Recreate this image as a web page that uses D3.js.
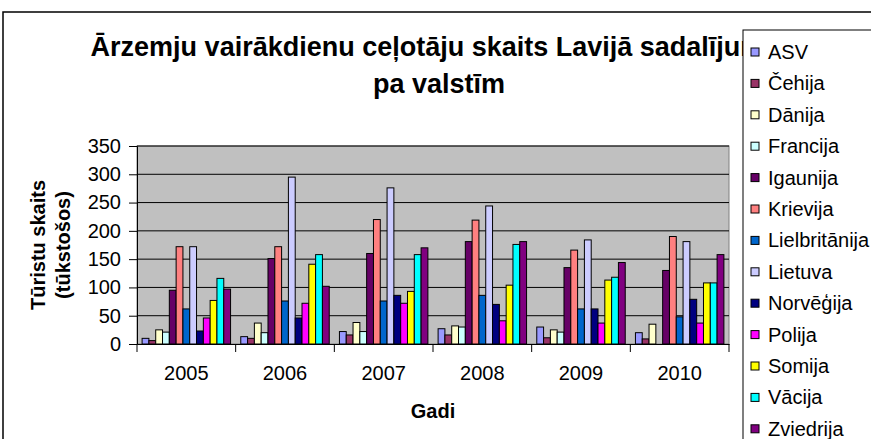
<!DOCTYPE html>
<html>
<head>
<meta charset="utf-8">
<script src="https://cdn.jsdelivr.net/npm/d3@7"></script>
<style>
  body { margin: 0; background: #fff; }
  text { font-family: "Liberation Sans", Arial, sans-serif; }
</style>
</head>
<body>
<svg width="871" height="439"></svg>
<script>
// Data (thousands of tourists)
var years = ["2005", "2006", "2007", "2008", "2009", "2010"];
var countries = ["ASV", "Čehija", "Dānija", "Francija", "Igaunija", "Krievija", "Lielbritānija",
                 "Lietuva", "Norvēģija", "Polija", "Somija", "Vācija", "Zviedrija"];
var colors = ["#9999FF", "#993366", "#FFFFCC", "#CCFFFF", "#660066", "#FF8080", "#0066CC",
              "#CCCCFF", "#000080", "#FF00FF", "#FFFF00", "#00FFFF", "#800080"];
var asv          = [10, 13, 22, 27, 30, 20];
var cehija       = [6, 10, 16, 16, 11, 9];
var danija       = [25, 37, 38, 32, 25, 35];
var francija     = [21, 20, 22, 30, 21, 0];
var igaunija     = [95, 151, 160, 181, 135, 130];
var krievija     = [172, 172, 220, 219, 166, 190];
var lielbritanija = [62, 76, 76, 86, 62, 48];
var lietuva      = [172, 295, 276, 244, 184, 181];
var norvegija    = [23, 46, 86, 70, 62, 79];
var polija       = [46, 72, 72, 41, 37, 37];
var somija       = [77, 141, 93, 104, 113, 108];
var vacija       = [116, 158, 158, 176, 118, 108];
var zviedrija    = [97, 102, 170, 181, 144, 158];
var series = [asv, cehija, danija, francija, igaunija, krievija, lielbritanija,
              lietuva, norvegija, polija, somija, vacija, zviedrija];
var yTicks = [0, 50, 100, 150, 200, 250, 300, 350];

var svg = d3.select("svg");

// chart area border
svg.append("rect")
  .attr("x", 3).attr("y", 12).attr("width", 900).attr("height", 460)
  .attr("fill", "#fff").attr("stroke", "#000").attr("stroke-width", 1.5);

// plot area
var pLeft = 137, pRight = 729, pTop = 146, pBottom = 344;

var x0 = d3.scaleBand().domain(years).range([pLeft, pRight]).padding(0);
var x1 = d3.scaleBand().domain(d3.range(countries.length))
    .range([0, x0.bandwidth()]).paddingInner(0).paddingOuter(0.75);
var y = d3.scaleLinear().domain([0, 350]).range([pBottom, pTop]);

svg.append("rect")
  .attr("x", pLeft).attr("y", pTop).attr("width", pRight - pLeft).attr("height", pBottom - pTop)
  .attr("fill", "#C0C0C0").attr("stroke", "#808080");

// gridlines
svg.append("g").selectAll("line")
  .data(yTicks.slice(1))
  .enter().append("line")
    .attr("x1", pLeft).attr("x2", pRight)
    .attr("y1", function(d){ return y(d); }).attr("y2", function(d){ return y(d); })
    .attr("stroke", "#000").attr("stroke-width", 1);

// bars
var rows = [];
years.forEach(function(yr, i){
  series.forEach(function(s, j){ rows.push({year: yr, k: j, v: s[i]}); });
});
svg.append("g").selectAll("rect")
  .data(rows)
  .enter().append("rect")
    .attr("x", function(d){ return x0(d.year) + x1(d.k); })
    .attr("y", function(d){ return y(d.v); })
    .attr("width", x1.bandwidth())
    .attr("height", function(d){ return pBottom - y(d.v); })
    .attr("fill", function(d){ return colors[d.k]; })
    .attr("stroke", "#000").attr("stroke-width", 1);

// axes
var yAxis = svg.append("g")
  .attr("transform", "translate(" + pLeft + ",0)")
  .call(d3.axisLeft(y).tickValues(yTicks).tickSize(8).tickPadding(8));
yAxis.selectAll("text").style("font-size", "20px").attr("fill", "#000");

var xAxis = svg.append("g")
  .attr("transform", "translate(0," + pBottom + ")")
  .call(d3.axisBottom(x0).tickSize(0).tickPadding(22));
xAxis.selectAll("text").style("font-size", "20px").attr("fill", "#000");
// category boundary ticks
svg.append("g").selectAll("line")
  .data(years.concat(["end"]))
  .enter().append("line")
    .attr("x1", function(d, i){ return pLeft + i * x0.step(); })
    .attr("x2", function(d, i){ return pLeft + i * x0.step(); })
    .attr("y1", pBottom).attr("y2", pBottom + 8)
    .attr("stroke", "#000");
svg.selectAll(".domain").attr("stroke", "#000");

// axis titles
svg.append("text")
  .attr("x", (pLeft + pRight) / 2).attr("y", 418)
  .attr("text-anchor", "middle")
  .style("font-size", "20px").style("font-weight", "bold")
  .text("Gadi");

var yt = svg.append("text")
  .attr("transform", "translate(45," + (pTop + pBottom) / 2 + ") rotate(-90)")
  .attr("text-anchor", "middle")
  .style("font-size", "20px").style("font-weight", "bold");
yt.append("tspan").attr("x", 0).attr("y", 0).text("Tūristu skaits");
yt.append("tspan").attr("x", 0).attr("y", 25).text("(tūkstošos)");

// title (its end runs under the legend, as in the original)
var tt = svg.append("text")
  .attr("text-anchor", "middle")
  .style("font-size", "27px").style("font-weight", "bold");
tt.append("tspan").attr("x", 435).attr("y", 56)
  .text("Ārzemju vairākdienu ceļotāju skaits Lavijā sadalījumā");
tt.append("tspan").attr("x", 439).attr("y", 93).text("pa valstīm");

// legend (drawn over the title end)
var lg = svg.append("g");
lg.append("rect")
  .attr("x", 743).attr("y", 30).attr("width", 200).attr("height", 440)
  .attr("fill", "#fff").attr("stroke", "#000");
var items = lg.selectAll("g.item")
  .data(countries)
  .enter().append("g")
    .attr("transform", function(d, i){ return "translate(0," + (52 + i * 31.4) + ")"; });
items.append("rect")
  .attr("x", 751).attr("y", -4).attr("width", 8).attr("height", 8)
  .attr("fill", function(d, i){ return colors[i]; })
  .attr("stroke", "#000");
items.append("text")
  .attr("x", 768).attr("y", 7)
  .style("font-size", "20px")
  .text(function(d){ return d; });
</script>
</body>
</html>
